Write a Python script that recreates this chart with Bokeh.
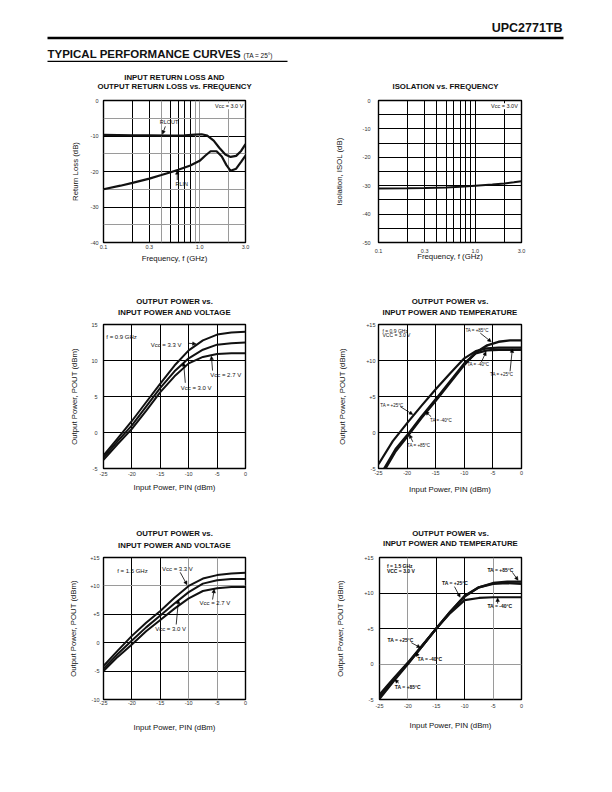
from bokeh.plotting import figure
from bokeh.layouts import column, row
from bokeh.models import (Range1d, FixedTicker, Grid, Label, Arrow,
                          NormalHead, BoxAnnotation)
from bokeh.embed import file_html
from bokeh.resources import INLINE

FONT = "Liberation Sans"

# ---------------- data ----------------
# Chart 1: return loss vs frequency
rl_out_freq = [0.1, 0.2, 0.3, 0.5, 0.7, 0.9, 1.05, 1.2, 1.4, 1.6, 1.85, 2.1, 2.4, 2.7, 3.0]
rl_out_db = [-9.7, -9.8, -9.8, -9.9, -9.8, -9.6, -9.5, -9.9, -11.3, -13.3, -15.2, -15.9, -15.6, -14.2, -12.3]
rl_in_freq = [0.1, 0.15, 0.2, 0.3, 0.4, 0.5, 0.6, 0.8, 1.0, 1.15, 1.3, 1.5, 1.7, 1.9, 2.1, 2.4, 2.7, 3.0]
rl_in_db = [-25.0, -24.0, -23.2, -22.0, -21.0, -20.2, -19.5, -18.3, -17.0, -15.5, -14.3, -14.3, -15.8, -18.2, -19.8, -19.2, -17.3, -15.5]

# Chart 2: isolation vs frequency
isol_freq = [0.1, 0.2, 0.3, 0.5, 0.7, 1.0, 1.5, 2.0, 2.5, 3.0]
isol_db = [-31.0, -30.9, -30.8, -30.6, -30.4, -30.0, -29.6, -29.2, -28.8, -28.4]

# Chart 3: Pout vs Pin and voltage, f = 0.9 GHz
pin_09v = [-25, -22.5, -20, -17.5, -15, -12.5, -10, -7.5, -5, -2.5, 0]
pout_09_33 = [-3.2, -0.8, 1.6, 4.2, 6.8, 9.3, 11.4, 12.8, 13.6, 13.9, 14.0]
pout_09_30 = [-3.5, -1.2, 1.0, 3.6, 6.2, 8.5, 10.3, 11.5, 12.2, 12.4, 12.5]
pout_09_27 = [-3.8, -1.6, 0.5, 3.0, 5.6, 7.8, 9.6, 10.5, 10.9, 11.0, 11.0]

# Chart 4: Pout vs Pin and temperature, f = 0.9 GHz
pin_09t_25 = [-25, -22.5, -20, -17.5, -15, -12.5, -10, -8, -6, -4, -2, 0]
pout_09_t25 = [-4.4, -1.2, 1.3, 3.7, 6.0, 8.2, 10.3, 11.3, 11.7, 11.8, 11.8, 11.8]
pin_09t = [-24, -22, -20, -17.5, -15, -12.5, -10, -8, -6, -4, -2, 0]
pout_09_tm40 = [-5.0, -2.3, -0.4, 2.2, 4.6, 7.1, 9.6, 11.0, 11.4, 11.5, 11.5, 11.5]
pout_09_t85 = [-5.3, -2.6, -0.6, 2.0, 4.4, 6.9, 9.4, 11.1, 12.1, 12.6, 12.8, 12.8]

# Chart 5: Pout vs Pin and voltage, f = 1.5 GHz
pin_15v = [-25, -22.5, -20, -17.5, -15, -12.5, -10, -7.5, -5, -2.5, 0]
pout_15_33 = [-4.1, -1.4, 1.2, 3.5, 5.6, 7.9, 10.0, 11.3, 11.9, 12.2, 12.3]
pout_15_30 = [-4.6, -2.0, 0.4, 2.7, 4.8, 6.9, 8.9, 10.4, 11.0, 11.2, 11.2]
pout_15_27 = [-5.0, -2.5, -0.3, 2.0, 4.0, 6.0, 7.8, 9.1, 9.6, 9.8, 9.8]

# Chart 6: Pout vs Pin and temperature, f = 1.5 GHz
pin_15t = [-25, -22.5, -20, -17.5, -15, -12.5, -10, -7.5, -5, -2.5, 0]
pout_15_t25 = [-4.6, -2.2, 0.1, 2.5, 5.0, 7.4, 9.6, 10.8, 11.3, 11.4, 11.3]
pout_15_t85 = [-4.9, -2.4, 0.0, 2.5, 5.0, 7.4, 9.5, 10.8, 11.4, 11.6, 11.6]
pout_15_tm40 = [-4.3, -2.0, 0.2, 2.6, 5.0, 7.2, 9.0, 9.3, 9.4, 9.4, 9.4]

freq_ticks = [0.1, 0.3, 1.0, 3.0]
freq_tick_labels = ["0.1", "0.3", "1.0", "3.0"]
freq_grid = [0.2, 0.3, 0.4, 0.5, 0.6, 0.7, 0.8, 0.9, 1.0, 2.0]
pin_ticks = [-25, -20, -15, -10, -5, 0]
pin_tick_labels = ["-25", "-20", "-15", "-10", "-5", "0"]

PAGE_W = 604


def text_strip(h):
    """A blank full-width strip (pixel coordinates, y downwards) that only carries text."""
    t = figure(width=PAGE_W, height=h, x_range=Range1d(0, PAGE_W), y_range=Range1d(h, 0),
               output_backend="svg", toolbar_location=None,
               x_axis_location=None, y_axis_location=None,
               min_border=0, outline_line_color=None,
               background_fill_color="white", border_fill_color="white")
    t.grid.visible = False
    return t


def title_strip(h, titles):
    """titles: list of (x_centre, [lines], [y of each line])"""
    t = text_strip(h)
    for xc, lines, ys in titles:
        for txt, y in zip(lines, ys):
            t.add_layout(Label(x=xc, y=y, text=txt, text_font=FONT,
                               text_font_size="7.8px", text_font_style="bold",
                               text_color="#111111", text_align="center",
                               text_baseline="middle"))
    return t


def base_fig(w, h, bl, br, bt, bb, xr, yr, xlog=False):
    p = figure(width=w, height=h, x_axis_type="log" if xlog else "linear",
               x_range=Range1d(*xr), y_range=Range1d(*yr),
               output_backend="svg", toolbar_location=None,
               min_border_left=bl, min_border_right=br,
               min_border_top=bt, min_border_bottom=bb,
               background_fill_color="white", border_fill_color="white",
               outline_line_color="black", outline_line_width=1.4)
    for ax in (p.xaxis[0], p.yaxis[0]):
        ax.axis_line_color = None
        ax.major_tick_line_color = None
        ax.minor_tick_line_color = None
        ax.major_tick_out = 0
        ax.major_tick_in = 0
        ax.minor_tick_out = 0
        ax.minor_tick_in = 0
        ax.major_label_text_font = FONT
        ax.major_label_text_font_size = "5.5px"
        ax.major_label_text_color = "#333333"
        ax.axis_label_text_font = FONT
        ax.axis_label_text_font_size = "7.8px"
        ax.axis_label_text_font_style = "normal"
        ax.axis_label_text_color = "#111111"
    p.yaxis[0].major_label_orientation = "horizontal"
    return p


def set_ticks(p, xt, xl, yt, yl):
    p.xaxis.ticker = FixedTicker(ticks=xt)
    p.xaxis.major_label_overrides = {t: l for t, l in zip(xt, xl)}
    p.yaxis.ticker = FixedTicker(ticks=yt)
    p.yaxis.major_label_overrides = {t: l for t, l in zip(yt, yl)}


def set_grids(p, xblack, xgray, yblack, ygray):
    p.xgrid.ticker = FixedTicker(ticks=xblack)
    p.xgrid.grid_line_color = "black"
    p.xgrid.grid_line_width = 1
    p.ygrid.ticker = FixedTicker(ticks=yblack)
    p.ygrid.grid_line_color = "black"
    p.ygrid.grid_line_width = 1
    if xgray:
        p.add_layout(Grid(dimension=0, ticker=FixedTicker(ticks=xgray),
                          grid_line_color="#9a9a9a", grid_line_width=1))
    if ygray:
        p.add_layout(Grid(dimension=1, ticker=FixedTicker(ticks=ygray),
                          grid_line_color="#9a9a9a", grid_line_width=1))


def lab(p, x, y, text, size="6px", bold=False, align="left", bg=None):
    kw = {}
    if bg:
        kw = dict(background_fill_color=bg, background_fill_alpha=1.0)
    p.add_layout(Label(x=x, y=y, text=text, text_font=FONT, text_font_size=size,
                       text_font_style="bold" if bold else "normal",
                       text_align=align, text_baseline="middle",
                       text_color="#111111", **kw))


def arr(p, x0, y0, x1, y1):
    p.add_layout(Arrow(end=NormalHead(size=3.5, fill_color="black", line_color="black", line_width=0.5),
                       x_start=x0, y_start=y0, x_end=x1, y_end=y1,
                       line_color="black", line_width=0.8))


# ---------------- header ----------------
hdr = text_strip(70)
hdr.add_layout(Label(x=562, y=27.6, text="UPC2771TB", text_font=FONT, text_font_size="12.5px",
                     text_font_style="bold", text_align="right", text_baseline="middle",
                     text_color="#111111"))
hdr.add_layout(BoxAnnotation(left=47, right=563, top=36.3, bottom=38.7,
                             fill_color="black", fill_alpha=1, line_color=None))
hdr.add_layout(Label(x=47, y=53.6, text="TYPICAL PERFORMANCE CURVES", text_font=FONT,
                     text_font_size="11.5px", text_font_style="bold", text_align="left",
                     text_baseline="middle", text_color="#111111"))
hdr.add_layout(Label(x=243, y=55.2, text="(TA = 25°)", text_font=FONT,
                     text_font_size="6.5px", text_align="left",
                     text_baseline="middle", text_color="#111111"))
hdr.add_layout(BoxAnnotation(left=47, right=287, top=60.3, bottom=61.5,
                             fill_color="black", fill_alpha=1, line_color=None))

# ---------------- title strips ----------------
s1 = title_strip(24, [
    (174, ["INPUT RETURN LOSS AND", "OUTPUT RETURN LOSS vs. FREQUENCY"], [7.3, 15.7]),
    (445, ["ISOLATION vs. FREQUENCY"], [16.0]),
])
s2 = title_strip(40, [
    (174, ["OUTPUT POWER vs.", "INPUT POWER AND VOLTAGE"], [21.0, 32.3]),
    (449.5, ["OUTPUT POWER vs.", "INPUT POWER AND TEMPERATURE"], [21.0, 31.7]),
])
s3 = title_strip(40, [
    (174, ["OUTPUT POWER vs.", "INPUT POWER AND VOLTAGE"], [23.3, 35.0]),
    (450, ["OUTPUT POWER vs.", "INPUT POWER AND TEMPERATURE"], [23.3, 33.3]),
])

# ---------------- chart 1 ----------------
p1 = base_fig(306, 186, 103, 61, 6, 38, (0.1, 3.0), (-40, 0), xlog=True)
set_ticks(p1, freq_ticks, freq_tick_labels, [0, -10, -20, -30, -40], ["0", "-10", "-20", "-30", "-40"])
set_grids(p1, [0.2, 0.3, 0.5, 0.6, 0.7, 0.8], [0.4, 0.9, 1.0, 2.0], [-10, -20, -30], [-5, -15, -25, -35])
p1.xaxis.axis_label = "Frequency, f (GHz)"
p1.yaxis.axis_label = "Return Loss (dB)"
p1.xaxis.major_label_standoff = 2
p1.xaxis.axis_label_standoff = 2
p1.yaxis.major_label_standoff = 5
p1.yaxis.axis_label_standoff = 8
p1.line(rl_out_freq, rl_out_db, line_color="#111111", line_width=2.2)
p1.line(rl_in_freq, rl_in_db, line_color="#111111", line_width=2.2)
lab(p1, 2.85, -1.6, "Vcc = 3.0 V", size="5.5px", align="right", bg="white")
lab(p1, 0.385, -6.1, "RLOUT", size="5.5px")
arr(p1, 0.44, -7.3, 0.41, -9.5)
lab(p1, 0.56, -23.4, "RLIN", size="5.5px")
arr(p1, 0.585, -22.4, 0.585, -19.8)

# ---------------- chart 2 ----------------
p2 = base_fig(298, 186, 72, 83, 6, 37, (0.1, 3.0), (-50, 0), xlog=True)
set_ticks(p2, freq_ticks, freq_tick_labels, [0, -10, -20, -30, -40, -50], ["0", "-10", "-20", "-30", "-40", "-50"])
set_grids(p2, freq_grid, None, [-5, -10, -15, -20, -25, -30, -35, -40, -45], None)
p2.xaxis.axis_label = "Frequency, f (GHz)"
p2.yaxis.axis_label = "Isolation, ISOL (dB)"
p2.xaxis.major_label_standoff = 6
p2.xaxis.axis_label_standoff = -4
p2.yaxis.major_label_standoff = 8
p2.yaxis.axis_label_standoff = 16
p2.line(isol_freq, isol_db, line_color="#111111", line_width=2.0)
lab(p2, 2.75, -2.0, "Vcc = 3.0V", size="5.5px", align="right", bg="white")

# ---------------- chart 3 ----------------
p3 = base_fig(306, 190, 103, 61, 4, 41, (-25, 0), (-5, 15))
set_ticks(p3, pin_ticks, pin_tick_labels, [15, 10, 5, 0, -5], ["15", "10", "5", "0", "-5"])
set_grids(p3, [-20, -15, -10, -5], None, [10, 5, 0], None)
p3.xaxis.axis_label = "Input Power, PIN (dBm)"
p3.yaxis.axis_label = "Output Power, POUT (dBm)"
p3.xaxis.major_label_standoff = 3
p3.xaxis.axis_label_standoff = 4
p3.yaxis.major_label_standoff = 6
p3.yaxis.axis_label_standoff = 9
for ys in (pout_09_33, pout_09_30, pout_09_27):
    p3.line(pin_09v, ys, line_color="#111111", line_width=2.0)
lab(p3, -24.5, 13.3, "f = 0.9 GHz", size="6px")
lab(p3, -16.7, 12.1, "Vcc = 3.3 V", size="6px")
arr(p3, -10.1, 12.4, -8.7, 12.3)
lab(p3, -6.2, 8.0, "Vcc = 2.7 V", size="6px")
arr(p3, -5.8, 8.6, -6.0, 10.6)
lab(p3, -11.4, 6.2, "Vcc = 3.0 V", size="6px")
arr(p3, -10.6, 6.9, -10.9, 9.7)

# ---------------- chart 4 ----------------
p4 = base_fig(298, 190, 72, 83, 3, 42, (-25, 0), (-5, 15))
set_ticks(p4, pin_ticks, pin_tick_labels, [15, 10, 5, 0, -5], ["+15", "+10", "+5", "0", "-5"])
set_grids(p4, [-20, -15, -10, -5], None, [10, 5, 0], None)
p4.xaxis.axis_label = "Input Power, PIN (dBm)"
p4.yaxis.axis_label = "Output Power, POUT (dBm)"
p4.xaxis.major_label_standoff = 2
p4.xaxis.axis_label_standoff = 7
p4.yaxis.major_label_standoff = 3
p4.yaxis.axis_label_standoff = 16
p4.line(pin_09t_25, pout_09_t25, line_color="#111111", line_width=2.2)
p4.line(pin_09t, pout_09_tm40, line_color="#111111", line_width=2.4)
p4.line(pin_09t, pout_09_t85, line_color="#111111", line_width=2.4)
lab(p4, -24.3, 14.1, "f = 0.9 GHz", size="5px")
lab(p4, -24.3, 13.5, "VCC = 3.0 V", size="5px")
lab(p4, -9.8, 14.2, "TA = +85°C", size="4.5px")
arr(p4, -7.2, 13.8, -5.3, 12.6)
lab(p4, -9.5, 9.4, "TA = -40°C", size="4.5px")
arr(p4, -7.0, 9.8, -6.2, 11.2)
lab(p4, -5.5, 8.0, "TA = +25°C", size="4.5px")
arr(p4, -2.0, 8.5, -1.6, 11.6)
lab(p4, -24.7, 3.8, "TA = +25°C", size="4.5px")
arr(p4, -21.2, 3.6, -19.0, 2.5)
lab(p4, -16.0, 1.6, "TA = -40°C", size="4.5px")
arr(p4, -15.8, 2.2, -16.8, 2.9)
lab(p4, -20.0, -1.8, "TA = +85°C", size="4.5px")
arr(p4, -19.0, -1.3, -19.6, -0.3)

# ---------------- chart 5 ----------------
p5 = base_fig(306, 226, 103, 61, 7, 77, (-25, 0), (-10, 15))
set_ticks(p5, pin_ticks, pin_tick_labels, [15, 10, 5, 0, -5, -10], ["+15", "+10", "+5", "0", "-5", "-10"])
set_grids(p5, [-20, -15], [-10, -5], [5, 0, -5], [10])
p5.xaxis.axis_label = "Input Power, PIN (dBm)"
p5.yaxis.axis_label = "Output Power, POUT (dBm)"
p5.xaxis.major_label_standoff = 1
p5.xaxis.axis_label_standoff = 15
p5.yaxis.major_label_standoff = 4
p5.yaxis.axis_label_standoff = 9
for ys in (pout_15_33, pout_15_30, pout_15_27):
    p5.line(pin_15v, ys, line_color="#111111", line_width=2.0)
lab(p5, -22.6, 12.7, "f = 1.5 GHz", size="6px")
lab(p5, -14.7, 13.0, "Vcc = 3.3 V", size="6px")
arr(p5, -11.5, 12.4, -10.3, 10.2)
lab(p5, -8.1, 7.0, "Vcc = 2.7 V", size="6px")
arr(p5, -5.8, 7.6, -5.5, 9.4)
lab(p5, -15.9, 2.4, "Vcc = 3.0 V", size="6px")
arr(p5, -12.2, 3.2, -11.8, 7.5)

# ---------------- chart 6 ----------------
p6 = base_fig(298, 226, 73, 83, 7, 74, (-25, 0), (-5, 15))
set_ticks(p6, pin_ticks, pin_tick_labels, [15, 10, 5, 0, -5], ["+15", "+10", "+5", "0", "-5"])
set_grids(p6, [-15, -10], [-20, -5], [10, 5], [0])
p6.xaxis.axis_label = "Input Power, PIN (dBm)"
p6.yaxis.axis_label = "Output Power, POUT (dBm)"
p6.xaxis.major_label_standoff = 4
p6.xaxis.axis_label_standoff = 10
p6.yaxis.major_label_standoff = 6
p6.yaxis.axis_label_standoff = 16
p6.line(pin_15t, pout_15_t25, line_color="#111111", line_width=2.4)
p6.line(pin_15t, pout_15_t85, line_color="#111111", line_width=2.4)
p6.line(pin_15t, pout_15_tm40, line_color="#111111", line_width=2.2)
lab(p6, -23.7, 13.8, "f = 1.5 GHz", size="5px", bold=True)
lab(p6, -23.7, 13.1, "VCC = 3.0 V", size="5px", bold=True)
lab(p6, -6.0, 13.3, "TA = +85°C", size="5px", bold=True)
arr(p6, -1.6, 12.9, -0.6, 11.8)
lab(p6, -14.0, 11.4, "TA = +25°C", size="5px", bold=True)
arr(p6, -11.8, 10.9, -10.8, 9.4)
lab(p6, -6.0, 8.1, "TA = -40°C", size="5px", bold=True)
arr(p6, -4.2, 8.5, -4.2, 9.3)
lab(p6, -23.6, 3.4, "TA = +25°C", size="5px", bold=True)
arr(p6, -19.4, 3.0, -17.8, 2.3)
lab(p6, -18.3, 0.7, "TA = -40°C", size="5px", bold=True)
arr(p6, -18.2, 1.1, -18.6, 1.6)
lab(p6, -22.3, -3.2, "TA = +85°C", size="5px", bold=True)
arr(p6, -21.6, -2.7, -22.3, -2.2)

layout = column(hdr,
                s1, row(p1, p2),
                s2, row(p3, p4),
                s3, row(p5, p6))

with open("out.html", "w") as f:
    f.write(file_html(layout, INLINE, "UPC2771TB Typical Performance Curves"))
